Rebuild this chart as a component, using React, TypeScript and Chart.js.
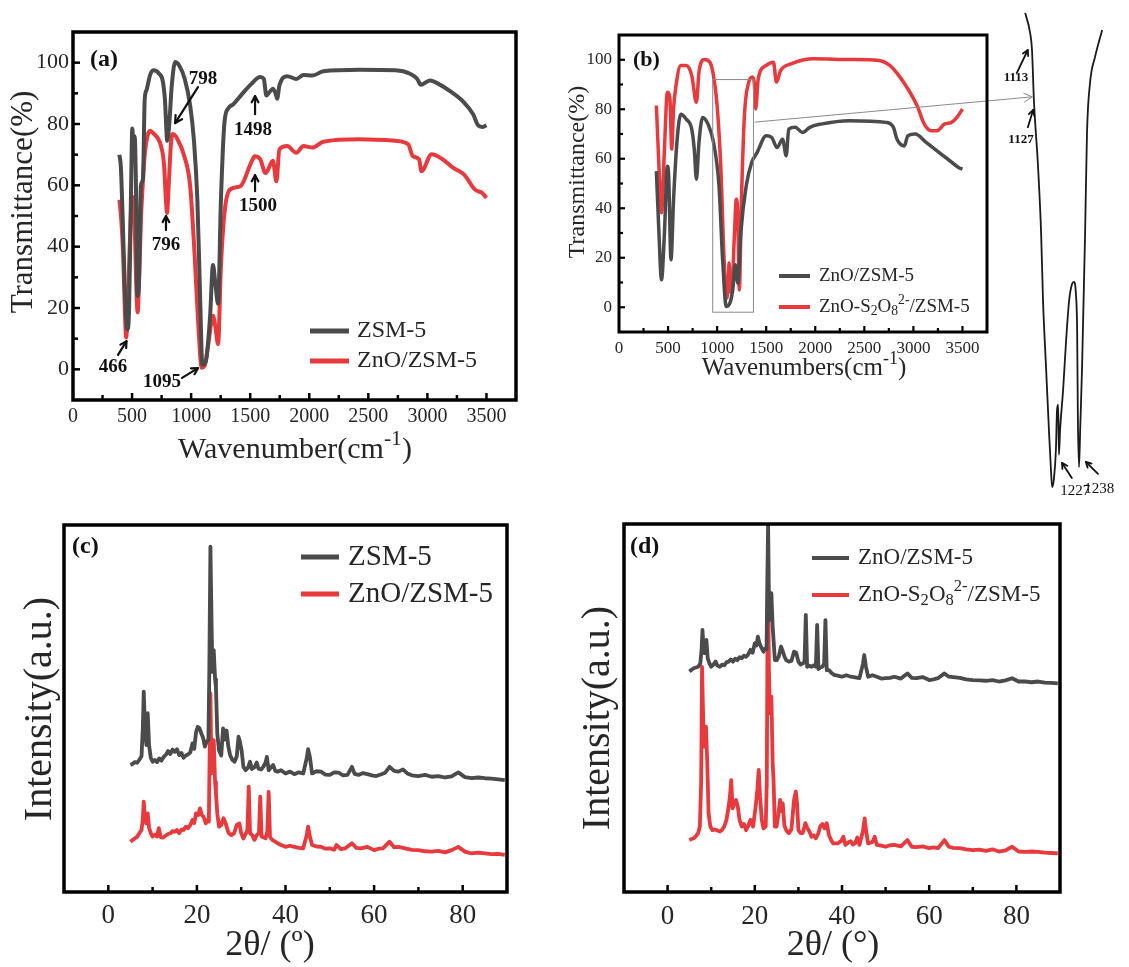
import React, { useEffect, useRef } from 'react';
import { Chart, registerables } from 'chart.js';
Chart.register(...registerables);

const FONT = "'Liberation Serif', 'Times New Roman', 'DejaVu Serif', serif";
const GRAY = '#4b4b4b';
const RED = '#e8393d';
const TXT = '#262626';

// ---------------- FTIR (a) ----------------
const ftirA_zsm_wn = [393,405,420,440,460,475,490,502,512,522,532,545,558,575,592,607,622,653,683,729,760,778,798,815,835,865,900,946,992,1023,1053,1075,1095,1125,1160,1185,1205,1228,1252,1282,1313,1358,1432,1508,1585,1615,1637,1665,1692,1716,1728,1747,1814,1890,1951,2027,2119,2425,2730,2853,2914,2944,3021,3097,3189,3311,3387,3433,3470,3500];
const ftirA_zsm_T = [70,66,50,25,13,20,55,78.5,73,76,62,24,28,60,62,88,91,96,97.5,96.4,94,88,74.5,80,92,100.2,99,94.7,86,75,55,25,1.5,2.7,17,34,28,21.4,55,80.5,85,86.5,89.8,93,95.3,94.7,89.3,90.5,91.5,89.8,88.2,92.5,95.6,94.7,96,95.8,97.2,97.7,97.5,96.4,94.7,92.8,94.2,93,90.8,87,83.2,79.4,79,79.6];
const ftirA_zno_wn = [393,410,424,440,450,462,480,500,510,520,535,547,560,576,590,607,630,653,684,714,745,770,787,796,810,830,845,885,946,992,1032,1062,1090,1114,1145,1185,1206,1228,1252,1282,1328,1417,1508,1539,1585,1630,1692,1722,1747,1814,1890,1951,2027,2119,2425,2730,2837,2877,2929,2950,3036,3128,3219,3311,3403,3464,3500];
const ftirA_zno_T = [55.3,48,37.8,18,10.4,18,40,56.4,55,50,28,18.6,30,49.8,60,70,76,77.8,76.8,75.6,72.8,67,55,51,60,74,76.7,75,69,59.7,35.6,13.7,0.5,1.1,8.2,17.5,13.7,8.2,33.4,51,58.6,59.7,67.4,69.5,68.5,64,68,61.3,71.7,72.8,70.6,72.8,72.3,74.2,75,74.5,73.4,69.5,68.5,64.6,70.1,68.5,65.7,63.5,58.6,57.5,55.9];

// ---------------- FTIR (b) ----------------
const ftirB_zno_wn = [381,407,433,463,493,505,530,556,593,630,685,741,767,789,815,852,907,963,1019,1056,1093,1122,1159,1185,1211,1241,1296,1352,1407,1500,1556,1611,1667,1704,1730,1796,1870,1944,2056,2352,2722,2796,2833,2907,2944,3019,3130,3241,3352,3463,3500];
const ftirB_zno_T = [55,30,11.1,30,57,54,19.2,43.6,68,78,76,72,63.9,51.7,66.6,76.7,74,66.6,49,19.2,0.3,1,7,17.2,9.7,30,49,58.5,62.5,69.3,68.6,64.5,67.9,61.2,72,72.7,70.6,72.7,74,75.4,74.7,72.7,67.9,65.2,69.3,70,66.6,63.2,59.8,56.4,55.8];
const ftirB_s2o8_wn = [381,407,433,463,493,519,537,556,581,630,685,741,789,815,870,926,963,1000,1037,1074,1100,1115,1122,1130,1148,1174,1196,1211,1226,1248,1278,1322,1359,1378,1393,1419,1500,1574,1604,1648,1759,1981,2352,2648,2759,2852,2944,3037,3111,3185,3241,3315,3389,3444,3500];
const ftirB_s2o8_T = [81.5,57,38.2,63.9,86.9,84.2,63.9,80.1,89.6,97.7,97.7,93.7,82.8,95,100.1,99,93.6,81.5,57,16.5,3.7,12,17.9,10,5.7,27.3,43.6,36.8,7,43.6,77.4,90.9,93,90.9,80.1,92.3,97.7,99,91,95.7,98.4,100.4,100.1,99.7,97.7,93.6,88.2,81.5,74,71.3,71.3,74,74.7,76.7,80.1];

// ---------------- inset (magnified band) ----------------
const inset_wn = [1080,1093,1098,1103,1114,1122,1127,1135,1143,1148,1151,1156,1161,1164,1167,1169,1172,1180,1188,1196,1203,1209,1214,1217,1219,1222,1225,1230,1238,1243,1251,1264,1283];
const inset_T = [97.3,93.1,89.5,79,64.9,51.1,37,22.9,9.1,1.3,-2.3,-0.4,5.5,13.9,15,4.5,9.7,18.1,28.6,37,40.2,40.8,38,30.7,11.8,1.9,9.7,22.9,51.1,72.1,82.6,88,93.7];

// ---------------- XRD (c) ----------------
const xrdC_zsm_2t = [5.0,5.5,6.0,6.5,7.0,7.5,7.8,8.0,8.3,8.6,8.9,9.2,9.6,10.0,10.5,11.0,11.5,12.0,12.5,13.0,13.5,14.0,14.5,15.0,15.5,16.0,16.5,17.0,17.5,18.0,18.5,19.0,19.4,19.8,20.2,20.6,21.0,21.4,21.8,22.2,22.6,22.8,23.05,23.3,23.5,23.8,24.1,24.3,24.6,25.0,25.5,25.9,26.3,26.7,27.1,27.5,28.0,28.5,29.0,29.4,29.7,30.1,30.5,31.0,31.5,32.0,32.4,33.0,33.5,33.9,34.5,35.0,35.5,35.8,36.2,36.7,37.2,37.7,38.2,39.0,40.0,41.0,42.0,43.0,44.0,44.8,45.1,45.5,46.0,47.0,48.0,49.0,50.0,51.0,52.0,53.0,54.0,55.0,55.6,56.5,57.5,58.5,59.5,60.5,61.5,62.5,63.5,64.5,65.5,66.5,67.5,68.5,70.0,71.5,73.0,74.5,76.0,77.5,79.0,80.5,82.0,83.5,85.0,86.5,88.0,89.5];
const xrdC_zsm_I = [34.6,34.9,35.4,35.2,36.0,37.0,45,54.6,44,40,48.7,40,36.5,35.5,36.0,35.4,36.4,35.8,36.8,37.4,38.4,37.6,38.8,38.2,38.9,37.3,37.9,36.6,37.2,37.5,38.0,40.5,39.0,43.5,45.0,44.6,43.2,42.0,39.6,41.0,41.4,60,94.1,74.1,60,65.9,58,55.9,43.2,38.5,37.2,44.6,41.5,44.0,39.6,37.3,36.0,35.5,37.0,42.3,41.0,38.5,34.1,33.2,33.8,35.5,33.5,34.0,35.3,33.6,33.4,34.1,35.3,36.8,33.2,33.9,34.6,33.0,32.8,33.2,32.3,32.8,32.1,32.6,32.3,36.5,38.9,36.8,32.3,32.9,32.8,32.0,31.9,32.6,32.5,31.8,31.9,34.1,32.2,31.9,32.4,32.1,31.8,31.6,32.0,32.5,34.1,33.0,32.8,33.4,32.3,31.8,31.6,31.9,31.4,31.6,31.2,31.5,32.6,31.3,31.0,31.2,31.0,30.9,30.7,30.5];
const xrdC_zno_2t = [5.0,5.5,6.0,6.5,7.0,7.5,7.8,8.0,8.3,8.6,8.9,9.2,9.6,10.0,10.5,11.0,11.4,11.8,12.3,13.0,13.5,14.0,14.5,15.0,15.5,16.0,16.5,17.0,17.5,18.0,18.5,19.0,19.4,19.8,20.3,20.7,21.1,21.5,22.0,22.4,22.7,22.85,23.05,23.3,23.55,23.8,24.1,24.3,24.6,25.0,25.5,26.0,26.4,26.8,27.2,27.8,28.4,29.0,29.6,30.0,30.5,31.0,31.4,31.7,32.0,32.5,33.0,33.5,34.0,34.3,34.6,35.0,35.5,35.9,36.2,36.5,37.0,37.6,38.2,39.0,40.0,41.0,42.0,43.0,44.0,44.8,45.1,45.5,46.0,47.0,48.0,49.0,50.0,51.0,51.5,52.5,53.5,55.0,56.0,57.0,58.5,60.0,61.0,62.0,63.5,64.5,65.5,67.0,68.5,70.0,71.5,73.0,74.5,76.0,77.5,79.0,80.5,82.0,83.5,85.0,86.5,88.0,89.5];
const xrdC_zno_I = [13.7,14.2,14.6,15.0,16.0,16.9,20,24.6,19.5,18.7,21.4,17.5,16.0,15.1,15.6,15.1,17.4,15.0,14.8,15.4,15.8,16.0,16.6,16.4,16.9,16.0,17.0,16.9,17.8,17.4,18.2,19.6,18.8,21.4,21.0,22.8,21.0,20.5,18.7,19.6,19.2,35,54.1,32.3,36,41.4,30,26.9,21.4,17.8,18.3,20.1,19.0,17.4,16.0,15.5,16.0,18.3,18.7,16.0,14.6,15.8,16.9,28.7,16.0,15.5,14.2,15.5,16.0,26.0,15.1,14.9,14.6,16.5,27.3,15.0,14.2,13.8,13.3,12.8,12.3,12.6,12.3,12.0,11.9,15.5,17.8,15.1,12.8,12.4,12.3,11.8,11.9,11.5,12.8,11.7,11.9,13.3,12.0,11.9,12.3,11.4,11.8,11.9,13.7,12.2,12.3,11.9,11.5,11.4,11.1,11.0,11.2,10.8,11.4,12.3,11.0,10.5,10.7,10.5,10.3,10.4,10.1];

// ---------------- XRD (d) ----------------
const xrdD_zno_2t = [5.0,5.5,6.0,6.5,7.0,7.5,7.8,8.0,8.3,8.6,8.9,9.2,9.6,10.0,10.5,11.0,11.4,12.0,12.5,13.0,13.5,14.0,14.5,15.0,15.5,16.0,16.5,17.0,17.5,18.0,18.5,19.0,19.5,20.0,20.4,20.7,21.1,21.4,22.0,22.4,22.7,22.85,23.05,23.3,23.55,23.8,24.1,24.3,24.6,25.0,25.5,26.0,26.4,26.8,27.2,27.8,28.4,29.0,29.5,30.0,30.5,31.0,31.4,31.7,32.0,32.5,33.0,33.5,34.0,34.3,34.6,35.0,35.5,35.9,36.2,36.5,37.0,37.6,38.2,39.0,40.0,41.0,42.0,43.0,44.0,44.8,45.1,45.5,46.0,47.0,48.0,49.0,50.0,51.0,52.0,53.5,55.0,56.0,57.0,58.5,60.0,61.0,62.0,63.5,64.5,65.5,67.0,68.5,70.0,71.5,73.0,74.5,76.0,77.5,79.0,80.5,82.0,83.5,85.0,86.5,88.0,89.5];
const xrdD_zno_I = [59.9,60.4,60.8,61.0,61.2,62.1,66,71.2,65,64.9,68.5,63.5,62.1,61.2,61.8,62.6,61.6,61.2,61.8,61.6,62.4,62.6,63.2,62.6,63.4,63.0,63.8,63.5,64.2,63.9,64.6,65.8,65.0,67.6,67.0,69.4,67.5,66.7,65.3,66.2,66.0,82,100,73.9,74,81.2,72,68.5,63.0,63.0,64.0,66.7,65.5,64.0,63.0,62.6,62.8,65.3,65.0,62.6,61.8,62.1,62.4,75.3,61.2,61.5,61.2,61.6,61.2,72.6,60.6,61.0,61.2,62.0,73.9,60.3,60.3,59.5,59.0,58.8,58.5,58.9,58.5,58.3,58.1,62,64.4,61.2,58.5,58.9,58.5,58.0,58.1,58.2,58.5,58.0,59.4,58.2,58.1,58.4,57.6,57.8,58.1,59.4,58.5,58.4,58.2,57.8,57.6,57.5,57.4,57.6,57.2,57.5,58.1,57.2,57.2,57.0,57.2,56.9,56.8,56.7];
const xrdD_s2o8_2t = [5.0,5.5,6.0,6.5,7.0,7.4,7.7,7.9,8.2,8.5,8.8,9.1,9.4,9.8,10.3,10.8,11.3,12.0,12.5,13.0,13.5,14.0,14.3,14.6,14.9,15.3,15.7,16.1,16.5,17.0,17.5,18.0,18.5,19.0,19.6,20.2,20.6,20.9,21.2,21.6,22.0,22.5,22.75,23.0,23.25,23.45,23.8,24.1,24.3,24.6,25.0,25.4,25.8,26.1,26.4,26.8,27.2,27.8,28.4,29.0,29.4,29.7,30.0,30.5,31.0,31.6,32.0,32.5,33.0,33.5,34.0,34.6,35.0,35.5,36.0,36.5,37.0,37.5,38.0,39.0,39.8,40.3,40.8,41.5,42.0,42.5,43.0,43.5,44.0,44.8,45.2,45.6,46.0,47.0,47.5,48.0,49.0,50.0,51.0,52.0,53.5,55.0,56.0,57.0,58.5,60.0,61.0,62.0,63.5,64.5,65.5,67.0,68.5,70.0,71.5,73.0,74.5,76.0,77.5,79.0,80.5,82.0,83.5,85.0,86.5,88.0,89.5];
const xrdD_s2o8_I = [14.1,14.4,14.6,15.2,16.0,17.8,30,61.2,45,39.5,44.9,35,21.4,17.8,16.8,17.0,16.8,16.4,16.9,17.8,19.6,23.2,26,30.4,22.7,24,25.0,23.2,19.6,17.8,18.5,16.8,18.0,19.6,17.8,23.2,28,33.2,25.9,19.6,17.3,17.8,30,89.3,60,48.6,53.1,35,30.4,17.8,17.8,21,25.0,22,24.1,18,16.8,16.0,17.0,25.0,27.3,24,16.8,16.0,16.0,18.7,17.5,16.5,15.0,15.4,14.6,16,17.8,18.5,17.3,18.7,15.5,14.1,13.2,13.2,13.8,15.0,12.8,13.5,13.8,12.9,13.2,14.8,12.8,16.5,20.0,16.0,13.2,13.6,15.0,12.8,12.6,12.3,12.7,12.8,12.4,14.1,12.3,12.2,12.4,11.9,12.1,11.9,14.1,12.3,12.0,11.9,11.6,11.4,11.5,11.2,11.6,11.0,11.3,12.3,11.0,10.9,11.0,10.9,10.7,10.6,10.5];

// ---------------- helpers ----------------
const zip = (xs: number[], ys: number[]) => xs.map((x, i) => ({ x, y: ys[i] }));

function segs(s: string) {
  const out: { t: string; k: number }[] = [];
  const re = /([_^])\{([^}]*)\}/g;
  let last = 0;
  let m: RegExpExecArray | null;
  while ((m = re.exec(s))) {
    if (m.index > last) out.push({ t: s.slice(last, m.index), k: 0 });
    out.push({ t: m[2], k: m[1] === '^' ? 1 : -1 });
    last = re.lastIndex;
  }
  if (last < s.length) out.push({ t: s.slice(last), k: 0 });
  return out;
}

function drawRich(ctx: CanvasRenderingContext2D, s: string, x: number, y: number, size: number, weight: string, align: string, color: string, rot = 0) {
  const parts = segs(s);
  const small = size * 0.72;
  let w = 0;
  const ws = parts.map((p) => {
    ctx.font = `${weight} ${p.k ? small : size}px ${FONT}`;
    const mw = ctx.measureText(p.t).width;
    w += mw;
    return mw;
  });
  ctx.save();
  ctx.translate(x, y);
  if (rot) ctx.rotate(rot);
  let cx = align === 'center' ? -w / 2 : align === 'right' ? -w : 0;
  ctx.textBaseline = 'middle';
  ctx.textAlign = 'left';
  ctx.fillStyle = color;
  parts.forEach((p, i) => {
    ctx.font = `${weight} ${p.k ? small : size}px ${FONT}`;
    const dy = p.k === 1 ? -size * 0.36 : p.k === -1 ? size * 0.24 : 0;
    ctx.fillText(p.t, cx, dy);
    cx += ws[i];
  });
  ctx.restore();
}

function drawArrow(ctx: CanvasRenderingContext2D, x1: number, y1: number, x2: number, y2: number, w: number, color: string, head: number) {
  ctx.save();
  ctx.strokeStyle = color;
  ctx.lineWidth = w;
  ctx.lineCap = 'round';
  ctx.lineJoin = 'round';
  ctx.beginPath();
  ctx.moveTo(x1, y1);
  ctx.lineTo(x2, y2);
  ctx.stroke();
  const a = Math.atan2(y2 - y1, x2 - x1);
  ctx.beginPath();
  ctx.moveTo(x2 - head * Math.cos(a - 0.5), y2 - head * Math.sin(a - 0.5));
  ctx.lineTo(x2, y2);
  ctx.lineTo(x2 - head * Math.cos(a + 0.5), y2 - head * Math.sin(a + 0.5));
  ctx.stroke();
  ctx.restore();
}

const decor = {
  id: 'decor',
  afterDatasetsDraw(chart: any, _a: any, o: any) {
    const ctx: CanvasRenderingContext2D = chart.ctx;
    const xs = chart.scales.x;
    const ys = chart.scales.y;
    const { left, top, right, bottom } = chart.chartArea;
    const px = (v: number) => xs.getPixelForValue(v);
    const py = (v: number) => ys.getPixelForValue(v);
    ctx.save();
    (o.rects || []).forEach((r: any) => {
      ctx.strokeStyle = r.color;
      ctx.lineWidth = r.w;
      ctx.strokeRect(px(r.p[0]), py(r.p[3]), px(r.p[2]) - px(r.p[0]), py(r.p[1]) - py(r.p[3]));
    });
    (o.arrows || []).forEach((a: any) => drawArrow(ctx, px(a.p[0]), py(a.p[1]), px(a.p[2]), py(a.p[3]), a.w, a.color, a.head));
    (o.labels || []).forEach((l: any) => drawRich(ctx, l.text, px(l.x), py(l.y), l.size, l.weight || 'normal', 'center', l.color || '#111'));
    if (o.frame) {
      ctx.strokeStyle = '#000';
      ctx.lineWidth = o.frame;
      ctx.lineJoin = 'miter';
      ctx.strokeRect(left, top, right - left, bottom - top);
    }
    if (o.tickX) {
      ctx.strokeStyle = '#000';
      ctx.lineWidth = o.tickX[2];
      xs.ticks.forEach((t: any) => {
        if (t.value <= xs.min || t.value >= xs.max) return;
        const x = px(t.value);
        const len = t.label !== '' ? o.tickX[0] : o.tickX[1];
        ctx.beginPath();
        ctx.moveTo(x, bottom);
        ctx.lineTo(x, bottom - len);
        ctx.stroke();
      });
    }
    if (o.tickY) {
      ctx.strokeStyle = '#000';
      ctx.lineWidth = o.tickY[2];
      ys.ticks.forEach((t: any) => {
        if (t.value <= ys.min || t.value >= ys.max) return;
        const y = py(t.value);
        const len = t.label !== '' ? o.tickY[0] : o.tickY[1];
        ctx.beginPath();
        ctx.moveTo(left, y);
        ctx.lineTo(left + len, y);
        ctx.stroke();
      });
    }
    if (o.legend) {
      const L = o.legend;
      chart.data.datasets.forEach((ds: any, i: number) => {
        const y = L.y0 + i * L.dy;
        ctx.strokeStyle = ds.borderColor;
        ctx.lineWidth = L.lw;
        ctx.lineCap = 'butt';
        ctx.beginPath();
        ctx.moveTo(L.x1, y);
        ctx.lineTo(L.x2, y);
        ctx.stroke();
        drawRich(ctx, ds.label, L.tx, y, L.size, 'normal', 'left', TXT);
      });
    }
    if (o.panel) drawRich(ctx, o.panel.text, o.panel.x, o.panel.y, o.panel.size, 'bold', 'left', '#111');
    if (o.xTitle) drawRich(ctx, o.xTitle.text, o.xTitle.x, o.xTitle.y, o.xTitle.size, 'normal', 'center', TXT);
    if (o.yTitle) drawRich(ctx, o.yTitle.text, o.yTitle.x, o.yTitle.y, o.yTitle.size, 'normal', 'center', TXT, -Math.PI / 2);
    ctx.restore();
  },
};

function ds(label: string, xs: number[], ys: number[], color: string, width: number, smooth: boolean) {
  return {
    label,
    data: zip(xs, ys),
    borderColor: color,
    backgroundColor: color,
    borderWidth: width,
    pointRadius: 0,
    tension: smooth ? 0.3 : 0,
    cubicInterpolationMode: smooth ? 'monotone' : 'default',
    borderJoinStyle: 'round',
    fill: false,
  };
}

function xAxis(min: number, max: number, step: number, show: (v: number) => boolean, height: number, size: number, pad: number) {
  return {
    type: 'linear',
    min,
    max,
    afterFit: (s: any) => { s.height = height; },
    grid: { display: false, drawTicks: false },
    border: { display: false },
    ticks: {
      stepSize: step,
      autoSkip: false,
      maxRotation: 0,
      padding: pad,
      color: TXT,
      font: { family: FONT, size },
      callback: (v: any) => (show(Number(v)) ? String(v) : ''),
    },
  };
}

function yAxis(min: number, max: number, step: number, show: (v: number) => boolean, width: number, size: number, pad: number, labels: boolean) {
  return {
    type: 'linear',
    min,
    max,
    afterFit: (s: any) => { s.width = width; },
    grid: { display: false, drawTicks: false },
    border: { display: false },
    ticks: {
      display: labels,
      stepSize: step,
      autoSkip: false,
      padding: pad,
      color: TXT,
      font: { family: FONT, size },
      callback: (v: any) => (show(Number(v)) ? String(v) : ''),
    },
  };
}

const baseOpts = (padding: any, scales: any, decorOpts: any) => ({
  animation: false,
  responsive: false,
  devicePixelRatio: 1,
  events: [],
  layout: { padding },
  plugins: { legend: { display: false }, tooltip: { enabled: false }, decor: decorOpts },
  scales,
});

const showFTIRx = (v: number) => v % 500 === 0 && v <= 3500;
const showFTIRy = (v: number) => v >= 0 && v <= 100 && v % 20 === 0;
const showXRDx = (v: number) => v >= 0 && v <= 80 && v % 20 === 0;

const PANELS = [
  { l: 0, t: 0, w: 560, h: 480 },
  { l: 560, t: 0, w: 569, h: 400 },
  { l: 0, t: 480, w: 560, h: 487 },
  { l: 560, t: 480, w: 569, h: 487 },
  { l: 990, t: 0, w: 139, h: 500 },
];

const CONFIGS: (() => any)[] = [
  () => ({
    type: 'line',
    data: { datasets: [ds('ZSM-5', ftirA_zsm_wn, ftirA_zsm_T, GRAY, 4, true), ds('ZnO/ZSM-5', ftirA_zno_wn, ftirA_zno_T, RED, 4, true)] },
    options: baseOpts(
      { top: 32, right: 44, left: 0, bottom: 0 },
      { x: xAxis(0, 3750, 250, showFTIRx, 80, 20, 5), y: yAxis(-10, 110, 10, showFTIRy, 73, 22, 4, true) },
      {
        frame: 3.5,
        tickX: [7, 5, 2.5],
        tickY: [7, 5, 2.5],
        legend: { x1: 310, x2: 349, tx: 357, y0: 331, dy: 30, size: 24, lw: 5 },
        panel: { text: '(a)', x: 90, y: 60, size: 24 },
        xTitle: { text: 'Wavenumber(cm^{-1})', x: 295, y: 450, size: 30 },
        yTitle: { text: 'Transmittance(%)', x: 24, y: 202, size: 31 },
        labels: [
          { text: '798', x: 1100, y: 94.7, size: 19, weight: 'bold' },
          { text: '1498', x: 1524, y: 78, size: 19, weight: 'bold' },
          { text: '796', x: 787, y: 40.5, size: 19, weight: 'bold' },
          { text: '1500', x: 1566, y: 53.2, size: 19, weight: 'bold' },
          { text: '466', x: 339, y: 0.75, size: 19, weight: 'bold' },
          { text: '1095', x: 754, y: -4.2, size: 19, weight: 'bold' },
        ],
        arrows: [
          { p: [1058, 92, 864, 80.3], w: 2.2, color: '#111', head: 8 },
          { p: [1541, 83.2, 1541, 89.1], w: 2.2, color: '#111', head: 7 },
          { p: [787, 45.4, 787, 50], w: 2.2, color: '#111', head: 7 },
          { p: [1541, 58.1, 1541, 63.3], w: 2.2, color: '#111', head: 7 },
          { p: [381, 4.7, 453, 9.2], w: 2.2, color: '#111', head: 7 },
          { p: [923, -2.8, 1058, 0.4], w: 2.2, color: '#111', head: 7 },
        ],
      }
    ),
    plugins: [decor],
  }),
  () => ({
    type: 'line',
    data: { datasets: [ds('ZnO/ZSM-5', ftirB_zno_wn, ftirB_zno_T, GRAY, 3.5, true), ds('ZnO-S_{2}O_{8}^{2-}/ZSM-5', ftirB_s2o8_wn, ftirB_s2o8_T, RED, 3.5, true)] },
    options: baseOpts(
      { top: 35, right: 142, left: 0, bottom: 0 },
      { x: xAxis(0, 3750, 250, showFTIRx, 68, 17, 6), y: yAxis(-10, 110, 10, showFTIRy, 59, 17, 7, true) },
      {
        frame: 3,
        tickX: [6, 4, 2.2],
        tickY: [6, 4, 2.2],
        legend: { x1: 219, x2: 250, tx: 259, y0: 276, dy: 31, size: 19, lw: 4 },
        panel: { text: '(b)', x: 73, y: 60, size: 22 },
        xTitle: { text: 'Wavenumbers(cm^{-1})', x: 244, y: 368, size: 25 },
        yTitle: { text: 'Transmittance(%)', x: 18, y: 172, size: 24 },
        rects: [{ p: [955, -2, 1370, 92], color: '#8a8a8a', w: 1 }],
        arrows: [{ p: [1386, 74.8, 4209, 85], w: 1, color: '#8a8a8a', head: 9 }],
      }
    ),
    plugins: [decor],
  }),
  () => ({
    type: 'line',
    data: { datasets: [ds('ZSM-5', xrdC_zsm_2t, xrdC_zsm_I, GRAY, 3.8, false), ds('ZnO/ZSM-5', xrdC_zno_2t, xrdC_zno_I, RED, 3.8, false)] },
    options: baseOpts(
      { top: 45, right: 53, left: 0, bottom: 0 },
      { x: xAxis(-10, 90, 10, showXRDx, 75, 27, 8), y: yAxis(0, 100, 10, () => false, 64, 20, 4, false) },
      {
        frame: 3.5,
        tickX: [7, 5, 2.5],
        legend: { x1: 301, x2: 339, tx: 348, y0: 77, dy: 37, size: 29, lw: 5 },
        panel: { text: '(c)', x: 72, y: 67, size: 24 },
        xTitle: { text: '2θ/ (º)', x: 270, y: 466, size: 36 },
        yTitle: { text: 'Intensity(a.u.)', x: 40, y: 229, size: 40 },
      }
    ),
    plugins: [decor],
  }),
  () => ({
    type: 'line',
    data: { datasets: [ds('ZnO/ZSM-5', xrdD_zno_2t, xrdD_zno_I, GRAY, 3.8, false), ds('ZnO-S_{2}O_{8}^{2-}/ZSM-5', xrdD_s2o8_2t, xrdD_s2o8_I, RED, 3.8, false)] },
    options: baseOpts(
      { top: 44, right: 69, left: 0, bottom: 0 },
      { x: xAxis(-10, 90, 10, showXRDx, 75, 27, 9), y: yAxis(0, 100, 10, () => false, 64, 20, 4, false) },
      {
        frame: 3.5,
        tickX: [7, 5, 2.5],
        legend: { x1: 252, x2: 289, tx: 298, y0: 78, dy: 37, size: 23, lw: 4 },
        panel: { text: '(d)', x: 70, y: 67, size: 24 },
        xTitle: { text: '2θ/ (°)', x: 273, y: 466, size: 36 },
        yTitle: { text: 'Intensity(a.u.)', x: 38, y: 238, size: 40 },
      }
    ),
    plugins: [decor],
  }),
  () => ({
    type: 'line',
    data: { datasets: [ds('magnified', inset_wn, inset_T, '#1a1a1a', 1.8, true)] },
    options: baseOpts(
      { top: 0, right: 9, left: 20, bottom: 0 },
      {
        x: { type: 'linear', display: false, min: 1040, max: 1330 },
        y: { type: 'linear', display: false, min: -5, max: 100 },
      },
      {
        labels: [
          { text: '1113', x: 1056, y: 83.8, size: 13, weight: 'bold' },
          { text: '1127', x: 1069, y: 70.6, size: 13, weight: 'bold' },
          { text: '1227', x: 1212, y: -3.2, size: 15 },
          { text: '1238', x: 1275, y: -2.8, size: 15 },
        ],
        arrows: [
          { p: [1058, 84.7, 1087, 89.5], w: 1.8, color: '#111', head: 6 },
          { p: [1087, 73.3, 1101, 76.9], w: 1.8, color: '#111', head: 6 },
          { p: [1203, -0.4, 1177, 2.8], w: 1.8, color: '#111', head: 6 },
          { p: [1272, 0.5, 1240, 3.0], w: 1.8, color: '#111', head: 6 },
        ],
      }
    ),
    plugins: [decor],
  }),
];

export default function App() {
  const r0 = useRef<HTMLCanvasElement>(null);
  const r1 = useRef<HTMLCanvasElement>(null);
  const r2 = useRef<HTMLCanvasElement>(null);
  const r3 = useRef<HTMLCanvasElement>(null);
  const r4 = useRef<HTMLCanvasElement>(null);
  const refs = [r0, r1, r2, r3, r4];
  useEffect(() => {
    Chart.defaults.font.family = FONT;
    const charts = CONFIGS.map((cfg, i) => new Chart(refs[i].current as HTMLCanvasElement, cfg()));
    return () => charts.forEach((c) => c.destroy());
  }, []);
  return (
    <div style={{ position: 'absolute', left: 0, top: 0, width: 1129, height: 967, background: '#fff', overflow: 'hidden' }}>
      {PANELS.map((p, i) => (
        <canvas
          key={i}
          ref={refs[i]}
          width={p.w}
          height={p.h}
          style={{ position: 'absolute', left: p.l, top: p.t, width: p.w, height: p.h }}
        />
      ))}
    </div>
  );
}
